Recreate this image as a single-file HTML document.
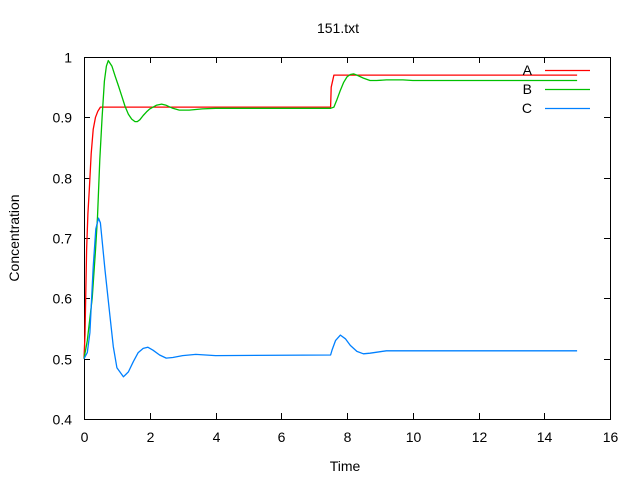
<!DOCTYPE html>
<html><head><meta charset="utf-8"><style>
body{margin:0;background:#fff}
svg{display:block;font-family:"Liberation Sans",sans-serif;font-size:14px}
</style></head><body>
<svg id="chart" width="640" height="480">
<text x="338" y="33" text-anchor="middle">151.txt</text>
<text x="345" y="471" text-anchor="middle">Time</text>
<text transform="translate(19,238) rotate(-90)" text-anchor="middle">Concentration</text>
<g id="axes"></g>
<g id="series"></g>
<g id="legend"></g>
</svg>
<script>
const xTicks=[0,2,4,6,8,10,12,14,16];
const yTicks=[0.4,0.5,0.6,0.7,0.8,0.9,1];
const yTickLabels=["0.4","0.5","0.6","0.7","0.8","0.9","1"];
const seriesNames=["A","B","C"];
const seriesColors=["#ff0000","#00c000","#0080ff"];
const tA=[0,0.03,0.08,0.12,0.16,0.22,0.28,0.35,0.42,0.5,7.5,7.52,7.6,15];
const vA=[0.5,0.54,0.68,0.74,0.78,0.84,0.88,0.9,0.91,0.917,0.917,0.95,0.97,0.97];
const tB=[0,0.1,0.25,0.35,0.41,0.48,0.55,0.62,0.68,0.74,0.85,0.95,1.05,1.15,1.25,1.35,1.45,1.55,1.62,1.7,1.8,1.9,2.0,2.2,2.36,2.5,2.7,2.9,3.2,3.6,4,7.5,7.6,7.7,7.8,7.9,8.0,8.1,8.2,8.3,8.5,8.7,8.9,9.2,9.7,10,15];
const vB=[0.5,0.53,0.6,0.68,0.735,0.83,0.9,0.96,0.985,0.994,0.985,0.968,0.952,0.935,0.918,0.905,0.897,0.893,0.893,0.896,0.903,0.909,0.914,0.92,0.922,0.92,0.915,0.912,0.912,0.914,0.915,0.915,0.917,0.93,0.945,0.958,0.967,0.971,0.972,0.97,0.965,0.961,0.961,0.962,0.962,0.961,0.961];
const tC=[0,0.1,0.18,0.28,0.36,0.44,0.5,0.64,0.79,0.89,1.0,1.2,1.35,1.5,1.65,1.8,1.94,2.1,2.3,2.5,2.7,3.0,3.4,4,7.5,7.55,7.65,7.8,7.95,8.1,8.3,8.5,8.7,9.2,15];
const vC=[0.5,0.51,0.543,0.652,0.715,0.733,0.725,0.647,0.57,0.52,0.485,0.47,0.478,0.495,0.51,0.517,0.519,0.514,0.506,0.501,0.502,0.505,0.507,0.505,0.506,0.515,0.53,0.539,0.533,0.522,0.512,0.508,0.509,0.513,0.513];
const NS="http://www.w3.org/2000/svg";
const X0=84,X1=610,Y0=419,Y1=57;
const sx=v=>X0+(v-0)/(16-0)*(X1-X0);
const sy=v=>Y0-(v-0.4)/(1-0.4)*(Y0-Y1);
function mk(tag,attrs,parent){const e=document.createElementNS(NS,tag);for(const k in attrs)e.setAttribute(k,attrs[k]);parent.appendChild(e);return e;}
const axes=document.getElementById('axes');
const frame=mk('rect',{x:X0+0.5,y:Y1+0.5,width:X1-X0,height:Y0-Y1,fill:'none',stroke:'#000'},axes);


xTicks.forEach(v=>{const x=Math.round(sx(v))+0.5;
 mk('line',{x1:x,x2:x,y1:Y0,y2:Y0-6,stroke:'#000'},axes);
 mk('line',{x1:x,x2:x,y1:Y1,y2:Y1+6,stroke:'#000'},axes);
 const t=mk('text',{x:x,y:Y0+23,'text-anchor':'middle'},axes);t.textContent=v;
 
 });
yTicks.forEach((v,i)=>{const y=Math.round(sy(v))+0.5;
 mk('line',{x1:X0,x2:X0+6,y1:y,y2:y,stroke:'#000'},axes);
 mk('line',{x1:X1,x2:X1-6,y1:y,y2:y,stroke:'#000'},axes);
 const t=mk('text',{x:X0-12,y:y+5,'text-anchor':'end'},axes);t.textContent=yTickLabels[i];
 
 });
const ser=document.getElementById('series');
const data=[[tA,vA],[tB,vB],[tC,vC]];
data.forEach((d,i)=>{const pts=d[0].map((t,j)=>sx(t).toFixed(1)+','+sy(d[1][j]).toFixed(1)).join(' ');
 const p=mk('polyline',{points:pts,fill:'none',stroke:seriesColors[i],'stroke-width':1.3,'stroke-linejoin':'round'},ser);
 
 });
const leg=document.getElementById('legend');
seriesNames.forEach((n,i)=>{const y=70+i*19;
 const t=mk('text',{x:532,y:y+5,'text-anchor':'end'},leg);t.textContent=n;
 
 
 const l=mk('line',{x1:545,x2:590,y1:y+0.5,y2:y+0.5,stroke:seriesColors[i],'stroke-width':1.3},leg);
 
 });
</script>
</body></html>
